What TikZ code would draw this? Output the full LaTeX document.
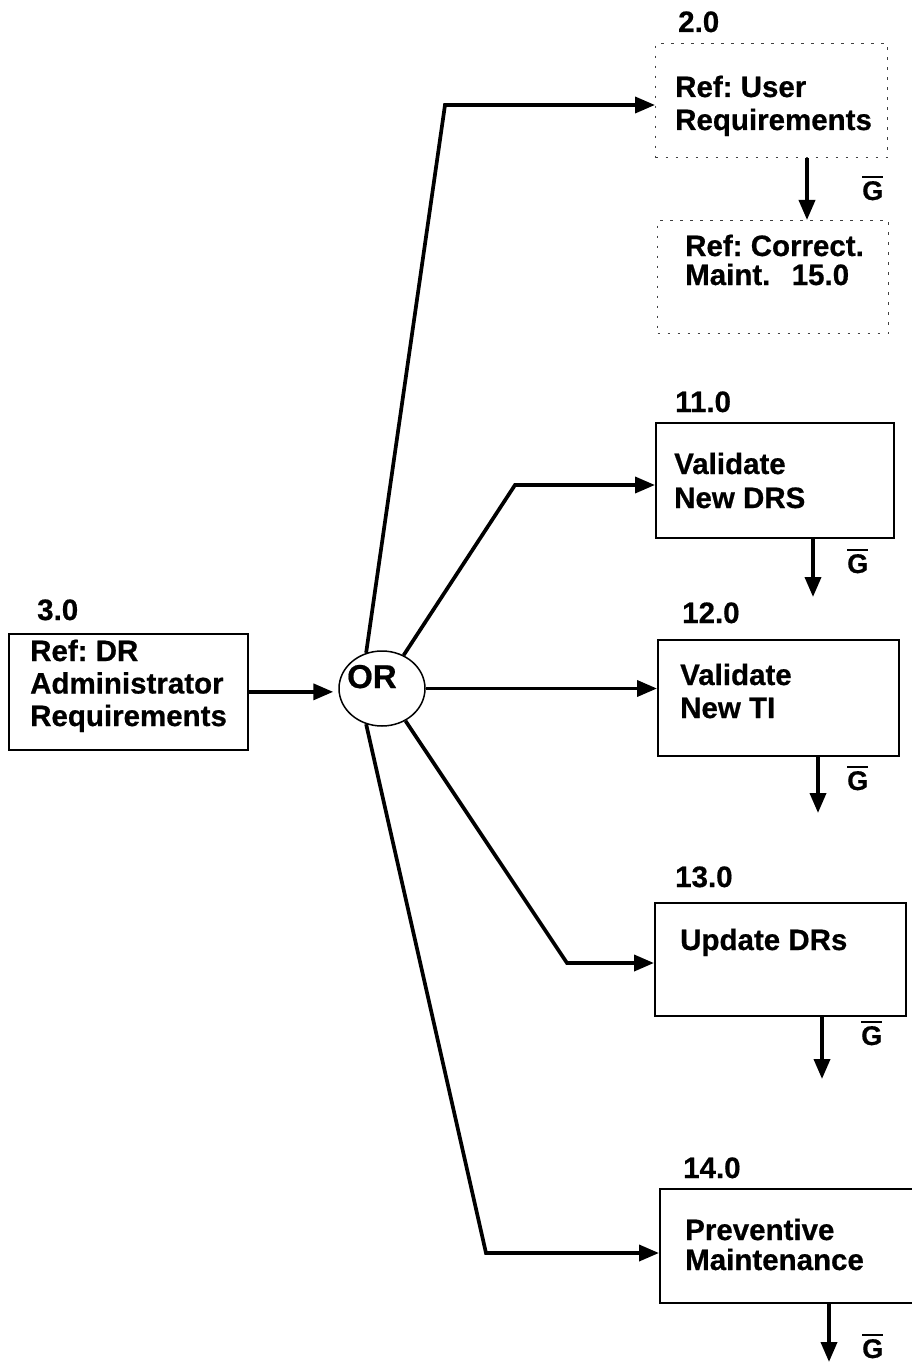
\documentclass[tikz,border=0pt]{standalone}
\usepackage{fontspec}
\setmainfont{Liberation Sans}[BoldFeatures={FakeBold=0.6}]
\usetikzlibrary{arrows.meta,shapes.geometric}
% G with a bar over it
\newcommand\gbar{\vbox{\hrule height 2.2pt\kern 3pt\hbox{G}}}
\frenchspacing
\begin{document}
\begin{tikzpicture}[x=1pt,y=-1pt,
  box/.style={draw, line width=1.7pt, inner sep=0pt, anchor=north west},
  refbox/.style={draw=black!75, line width=1.4pt, dash pattern=on 2.5pt off 7.5pt,
                 inner sep=0pt, anchor=north west},
  txt/.style={anchor=base west, inner sep=0pt, font=\fontsize{29.5}{33}\selectfont\bfseries},
  gtxt/.style={anchor=base west, inner sep=0pt, font=\fontsize{27}{29}\selectfont\bfseries},
  flow/.style={line width=3.7pt, -{Triangle[length=20pt,width=16pt]}},
]
\path[use as bounding box] (0,0) rectangle (912,1364);
\clip (0,0) rectangle (912,1364);

% process boxes
\node[refbox, minimum width=232pt, minimum height=114pt] (b2)  at (655,43) {};
\node[refbox, minimum width=231pt, minimum height=113pt] (b15) at (657,220) {};
\node[box, minimum width=238pt, minimum height=115pt] (b11) at (655,422) {};
\node[box, minimum width=241pt, minimum height=116pt] (b12) at (657,639) {};
\node[box, minimum width=251pt, minimum height=113pt] (b13) at (654,902) {};
\node[box, minimum width=270pt, minimum height=114pt] (b14) at (659,1188) {};
\node[box, minimum width=239pt, minimum height=116pt] (b3)  at (8,633) {};
\node[draw, ellipse, line width=1.5pt, minimum width=86pt, minimum height=75pt] (or) at (382,688.5) {};

% numbers and texts
\node[txt] (l2) at (678,32) {2.0};
\node[txt] (t2) at (675,97) {\vtop{\baselineskip=33pt\hbox{Ref: User}\hbox{Requirements}}};
\node[txt] (t15) at (685,256) {\vtop{\baselineskip=29pt\hbox{Ref: Correct.}\hbox{Maint.\ \ \,15.0}}};
\node[txt] (l11) at (675,412) {11.0};
\node[txt] (t11) at (674,474) {\vtop{\baselineskip=34pt\hbox{Validate}\hbox{New DRS}}};
\node[txt] (l12) at (682,623) {12.0};
\node[txt] (t12) at (680,685) {\vtop{\baselineskip=33pt\hbox{Validate}\hbox{New TI}}};
\node[txt] (l13) at (675,887) {13.0};
\node[txt] (t13) at (680,950) {Update DRs};
\node[txt] (l14) at (683,1178) {14.0};
\node[txt] (t14) at (685,1240) {\vtop{\baselineskip=30pt\hbox{Preventive}\hbox{Maintenance}}};
\node[txt] (l3) at (37,620) {3.0};
\node[txt] (t3) at (30,661) {\vtop{\baselineskip=32.5pt\hbox{Ref: DR}\hbox{Administrator}\hbox{Requirements}}};
\node[txt, font=\fontsize{33}{35}\selectfont\bfseries] (tor) at (347,688) {OR};

% G labels
\node[gtxt] (g2)  at (862,200)  {\gbar};
\node[gtxt] (g11) at (847,573)  {\gbar};
\node[gtxt] (g12) at (847,790)  {\gbar};
\node[gtxt] (g13) at (861,1045) {\gbar};
\node[gtxt] (g14) at (862,1358) {\gbar};

% bend points and free arrow ends
\coordinate (k2)  at (445,105);
\coordinate (k11) at (515,485);
\coordinate (k13) at (567,963);
\coordinate (k14) at (486,1253);
\coordinate (e11) at (813,597);
\coordinate (e12) at (818,813);
\coordinate (e13) at (822,1079);
\coordinate (e14) at (829,1362);
\coordinate (x15) at (807,0);

% connectors
\draw[flow, shorten >=5pt] (b3.east) -- (b3.east -| or.west);
\draw[flow] (or.114) -- (k2) -- (k2 -| b2.west);
\draw[flow] (or.57) -- (k11) -- (k11 -| b11.west);
\draw[flow] (or.east) -- (or.east -| b12.west);
\draw[flow] (or.-54) -- (k13) -- (k13 -| b13.west);
\draw[flow] (or.-114) -- (k14) -- (k14 -| b14.west);

\draw[flow] (b2.south -| x15) -- (b15.north -| x15);
\draw[flow] (b11.south -| e11) -- (e11);
\draw[flow] (b12.south -| e12) -- (e12);
\draw[flow] (b13.south -| e13) -- (e13);
\draw[flow] (b14.south -| e14) -- (e14);
\end{tikzpicture}
\end{document}
